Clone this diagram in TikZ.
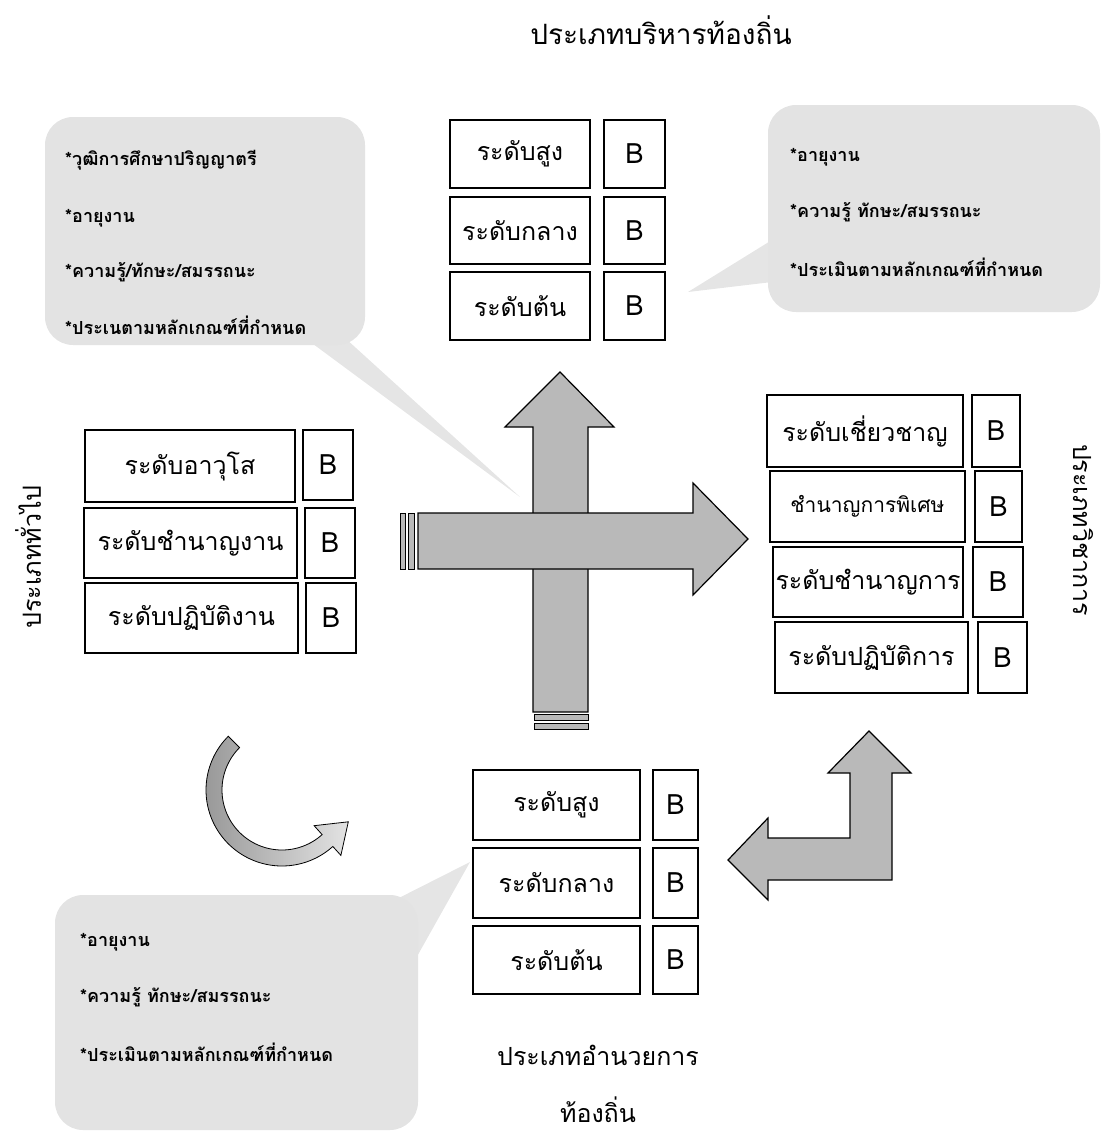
\documentclass[tikz,border=0pt]{standalone}
\usepackage{fontspec}
\setmainfont[Script=Thai]{Loma}
\begin{document}
\begin{tikzpicture}[x=1pt,y=-1pt,
  lvl/.style={draw=black, line width=1.5pt, inner sep=0pt, font=\fontsize{25}{29}\selectfont},
  bx/.style={lvl, font=\fontsize{28}{32}\selectfont},
  bub/.style={fill=gray!22, draw=none, rounded corners=28pt},
  tail/.style={fill=gray!20, draw=none},
  note/.style={anchor=west, inner sep=0pt, font=\bfseries\fontsize{18}{21}\selectfont},
  arr/.style={fill=gray!55, draw=black, line width=1.2pt, line join=miter},
  ttl/.style={inner sep=0pt, font=\fontsize{25}{29}\selectfont}]
\useasboundingbox (0,0) rectangle (1107,1136);

% ---- callout bubbles ----
\fill[tail] (305,338) -- (520,497) -- (345,338) -- cycle;
\fill[bub] (45,117) rectangle (365,345);
\fill[tail] (772,240) -- (688,292) -- (772,282) -- cycle;
\fill[bub] (768,105) rectangle (1100,312);
\fill[tail] (385,905) -- (470,862) -- (415,960) -- cycle;
\fill[bub] (55,895) rectangle (418,1130);

\node[note] (n1a) at (65,160) {*วุฒิการศึกษาปริญญาตรี};
\node[note] (n1b) at (65,218) {*อายุงาน};
\node[note] (n1c) at (65,272) {*ความรู้/ทักษะ/สมรรถนะ};
\node[note] (n1d) at (65,325) {*ประเนตามหลักเกณฑ์ที่กำหนด};

\node[note] (n2a) at (790,157) {*อายุงาน};
\node[note] (n2b) at (790,212) {*ความรู้ ทักษะ/สมรรถนะ};
\node[note] (n2c) at (790,267) {*ประเมินตามหลักเกณฑ์ที่กำหนด};

\node[note] (n3a) at (80,942) {*อายุงาน};
\node[note] (n3b) at (80,997) {*ความรู้ ทักษะ/สมรรถนะ};
\node[note] (n3c) at (80,1052) {*ประเมินตามหลักเกณฑ์ที่กำหนด};

% ---- titles ----
\node[ttl, font=\fontsize{28}{32}\selectfont] (ttop) at (661,30) {ประเภทบริหารท้องถิ่น};
\node[ttl] (tbot1) at (598,1055) {ประเภทอำนวยการ};
\node[ttl] (tbot2) at (598,1110) {ท้องถิ่น};
\node[ttl, rotate=90] (tleft) at (28,557) {ประเภททั่วไป};
\node[ttl, rotate=-90] (tright) at (1083,530) {ประเภทวิชาการ};

% ---- top boxes ----
\node[lvl, minimum width=140, minimum height=68] (t1) at (520,154) {ระดับสูง};
\node[bx, minimum width=61, minimum height=68] (t1b) at (634.5,154) {B};
\node[lvl, minimum width=140, minimum height=67] (t2) at (520,230.5) {ระดับกลาง};
\node[bx, minimum width=61, minimum height=67] (t2b) at (634.5,230.5) {B};
\node[lvl, minimum width=140, minimum height=68] (t3) at (520,306) {ระดับต้น};
\node[bx, minimum width=61, minimum height=68] (t3b) at (634.5,306) {B};

% ---- left boxes ----
\node[lvl, minimum width=210, minimum height=72] (l1) at (190,466) {ระดับอาวุโส};
\node[bx, minimum width=50, minimum height=70] (l1b) at (328,465) {B};
\node[lvl, minimum width=213, minimum height=70] (l2) at (190.5,543) {ระดับชำนาญงาน};
\node[bx, minimum width=50, minimum height=70] (l2b) at (330,543) {B};
\node[lvl, minimum width=213, minimum height=70] (l3) at (191.5,618) {ระดับปฏิบัติงาน};
\node[bx, minimum width=50, minimum height=70] (l3b) at (331,618) {B};

% ---- right boxes ----
\node[lvl, minimum width=196, minimum height=72] (r1) at (865,431) {ระดับเชี่ยวชาญ};
\node[bx, minimum width=48, minimum height=72] (r1b) at (996,431) {B};
\node[lvl, minimum width=195, minimum height=71, font=\fontsize{21}{25}\selectfont] (r2) at (867.5,506.5) {ชำนาญการพิเศษ};
\node[bx, minimum width=47, minimum height=71] (r2b) at (998.5,506.5) {B};
\node[lvl, minimum width=190, minimum height=70] (r3) at (868,582) {ระดับชำนาญการ};
\node[bx, minimum width=50, minimum height=70] (r3b) at (998,582) {B};
\node[lvl, minimum width=193, minimum height=71] (r4) at (871.5,657.5) {ระดับปฏิบัติการ};
\node[bx, minimum width=49, minimum height=71] (r4b) at (1002.5,657.5) {B};

% ---- bottom boxes ----
\node[lvl, minimum width=167, minimum height=70] (b1) at (556.5,805) {ระดับสูง};
\node[bx, minimum width=45, minimum height=70] (b1b) at (675.5,805) {B};
\node[lvl, minimum width=167, minimum height=70] (b2) at (556.5,883) {ระดับกลาง};
\node[bx, minimum width=45, minimum height=70] (b2b) at (675.5,883) {B};
\node[lvl, minimum width=167, minimum height=68] (b3) at (556.5,960) {ระดับต้น};
\node[bx, minimum width=45, minimum height=68] (b3b) at (675.5,960) {B};

% ---- cross arrows ----
\draw[arr] (533,712) -- (533,427) -- (505,427) -- (560,372) -- (614,427) -- (588,427) -- (588,712) -- cycle;
\draw[arr, line width=1pt] (534,714.5) rectangle (588,720);
\draw[arr, line width=1pt] (534,723.5) rectangle (588,729.5);
\draw[arr] (418,513) -- (693,513) -- (693,483) -- (748,539) -- (693,595) -- (693,569) -- (418,569) -- cycle;
\draw[arr, line width=1pt] (400,513.5) rectangle (405,569.5);
\draw[arr, line width=1pt] (408.5,513.5) rectangle (414.5,569.5);

% ---- L arrow ----
\draw[arr] (892,880) -- (768,880) -- (768,900) -- (728,860) -- (768,818) -- (768,838)
  -- (850,838) -- (850,773) -- (828,773) -- (869,731) -- (911,773) -- (892,773) -- cycle;

% ---- curved arrow ----
\draw[left color=gray!80, right color=gray!22, draw=black, line width=0.8pt]
  plot[domain=135:312, samples=40, smooth] ({282+76*cos(\x)},{790-76*sin(\x)})
  -- ({282+88*cos(312)},{790-88*sin(312)})
  -- ({282+68*cos(312)+28*sin(312)*(-1)},{790-68*sin(312)-28*cos(312)})
  -- ({282+48*cos(312)},{790-48*sin(312)})
  -- plot[domain=312:135, samples=40, smooth] ({282+60*cos(\x)},{790-60*sin(\x)})
  -- cycle;
\end{tikzpicture}
\end{document}
